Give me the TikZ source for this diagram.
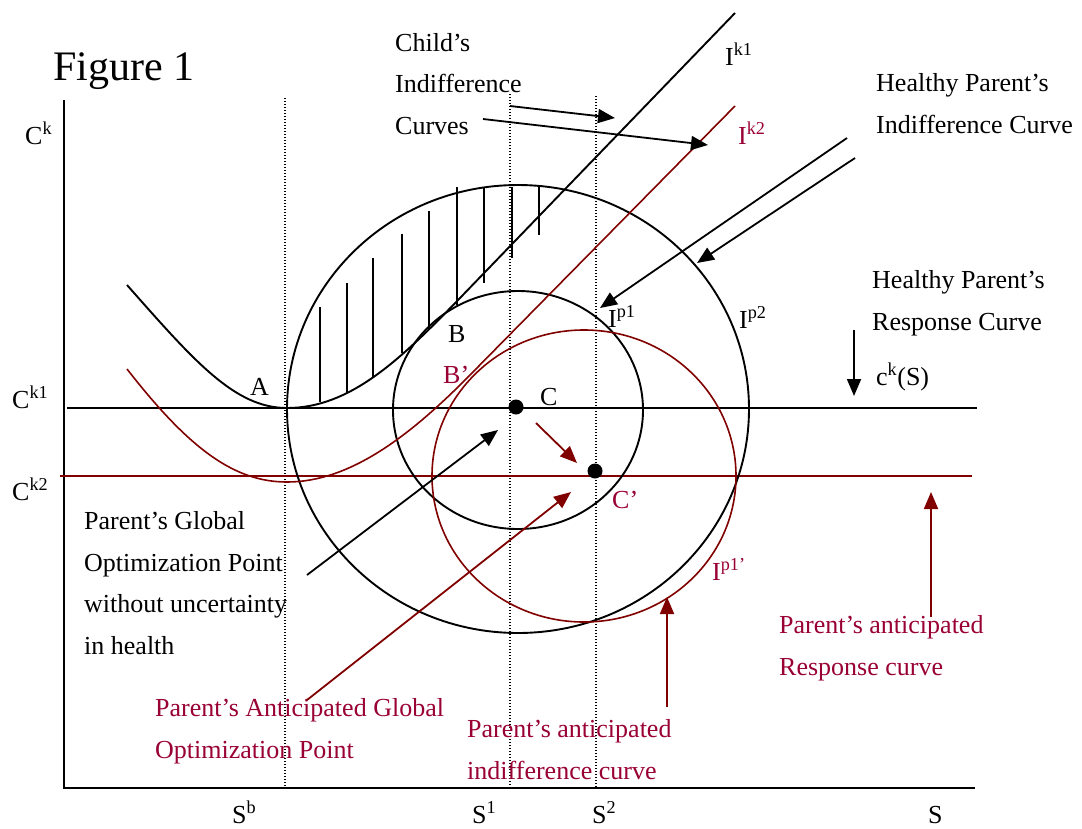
\documentclass[tikz,border=0pt]{standalone}
\usepackage{fontspec}
\setmainfont{Liberation Serif}
\usetikzlibrary{arrows.meta}
\definecolor{curvered}{RGB}{128,0,0}
\definecolor{textred}{RGB}{153,0,51}

\begin{document}
\begin{tikzpicture}
  [x=1pt, y=-1pt, >={Triangle[length=17pt,width=14pt]},
   every node/.style={inner sep=0pt, font=\fontsize{26}{41.5}\selectfont},
   lbl/.style={anchor=base west},
   note/.style={anchor=base west, align=left},
   curve/.style={line width=1.9pt},
   redcurve/.style={line width=1.6pt, curvered},
   guide/.style={line width=1.4pt, dash pattern=on 1.3pt off 1.7pt},
   pointer/.style={->, line width=1.8pt},
   dot/.style={circle, fill, minimum size=15pt}]
  \useasboundingbox (0,0) rectangle (1082,828);
  \node[lbl, font=\fontsize{42}{50}\selectfont] (fig) at (53,80) {Figure 1};
  \draw[line width=2pt] (64,100) -- (64,788) -- (975,788);
  \draw[guide] (285,98) -- (285,788) (510,94) -- (510,788) (596,96) -- (596,788);
  \draw[curve] (67,408) -- (977,408);
  \draw[redcurve] (60,476) -- (972,476);
  \draw[curve] (518,409) ellipse [x radius=231, y radius=224];
  \draw[curve] (518,410) ellipse [x radius=125, y radius=119];
  \draw[redcurve] (584,476) ellipse [x radius=152, y radius=146];
  \draw[curve] (127,285) .. controls (195,362) and (235,408) .. (287,408)
    .. controls (350,408) and (400,360) .. (460,298) -- (735,13);
  \draw[redcurve] (127,369) .. controls (190,450) and (235,482) .. (287,482)
    .. controls (350,482) and (410,436) .. (470,375) -- (735,106);
  \foreach \x/\a/\b in {320/307/402, 347/283/393, 373/258/378, 402/234/353,
    429/211/330, 457/187/305, 484/187/283, 512/187/258, 539/187/235}
    \draw[curve] (\x,\a) -- (\x,\b);
  \node[dot] (C) at (516,407) {};
  \node[dot] (C') at (595,471) {};
  % labels
  \node[lbl] (Ck) at (25,144) {C\textsuperscript{k}};
  \node[lbl] (Ck1) at (12,408) {C\textsuperscript{k1}};
  \node[lbl] (Ck2) at (12,500) {C\textsuperscript{k2}};
  \node[lbl] (Sb) at (232,823) {S\textsuperscript{b}};
  \node[lbl] (S1) at (472,823) {S\textsuperscript{1}};
  \node[lbl] (S2) at (592,823) {S\textsuperscript{2}};
  \node[lbl] (S) at (928,823) {S};
  \node[lbl] (Ik1) at (725,65) {I\textsuperscript{k1}};
  \node[lbl, textred] (Ik2) at (738,144) {I\textsuperscript{k2}};
  \node[lbl] (Ip2) at (739,328) {I\textsuperscript{p2}};
  \node[lbl] (Ip1) at (608,327) {I\textsuperscript{p1}};
  \node[lbl, textred] (Ip1') at (712,580) {I\textsuperscript{p1’}};
  \node[lbl] (A) at (250,395) {A};
  \node[lbl] (B) at (448,342) {B};
  \node[lbl, textred] (B') at (443,383) {B’};
  \node[lbl] (Clbl) at (540,405) {C};
  \node[lbl, textred] (C'lbl) at (612,508) {C’};
  \node[lbl] (ckS) at (876,385) {c\textsuperscript{k}(S)};
  \node[note] (child) at (395,134) {Child’s\\Indifference\\Curves};
  \node[note] (hpic) at (876,133) {Healthy Parent’s\\Indifference Curve};
  \node[note] (hprc) at (872,330) {Healthy Parent’s\\Response Curve};
  \node[note] (pgop) at (84,654) {Parent’s Global\\Optimization Point\\without uncertainty\\in health};
  \node[note, textred] (pagop) at (155,758) {Parent’s Anticipated Global\\Optimization Point};
  \node[note, textred] (paic) at (467,779) {Parent’s anticipated\\indifference curve};
  \node[note, textred] (parc) at (779,675) {Parent’s anticipated\\Response curve};
  % pointers
  \coordinate (ch1) at (510,106); \coordinate (ik1) at (615,118);
  \coordinate (ch2) at (483,119); \coordinate (ik2) at (708,145);
  \coordinate (hp1) at (847,138); \coordinate (ip1) at (600,308);
  \coordinate (hp2) at (855,158); \coordinate (ip2) at (697,263);
  \coordinate (hr) at (854,330); \coordinate (ck) at (854,396);
  \coordinate (pg) at (307,575); \coordinate (pga) at (307,700);
  \coordinate (ic) at (667,707); \coordinate (ic') at (667,597);
  \coordinate (rc) at (931,617); \coordinate (rc') at (931,492);
  \draw[pointer] (ch1) -- (ik1);
  \draw[pointer] (ch2) -- (ik2);
  \draw[pointer] (hp1) -- (ip1);
  \draw[pointer] (hp2) -- (ip2);
  \draw[pointer] (hr) -- (ck);
  \draw[pointer] (pg) -- ([shift={(-18,23)}]C.center);
  \draw[pointer, curvered] (pga) -- ([shift={(-24,21)}]C'.center);
  \draw[pointer, curvered] ([shift={(20,16)}]C.center) -- ([shift={(-18,-8)}]C'.center);
  \draw[pointer, curvered] (ic) -- (ic');
  \draw[pointer, curvered] (rc) -- (rc');
\end{tikzpicture}
\end{document}
